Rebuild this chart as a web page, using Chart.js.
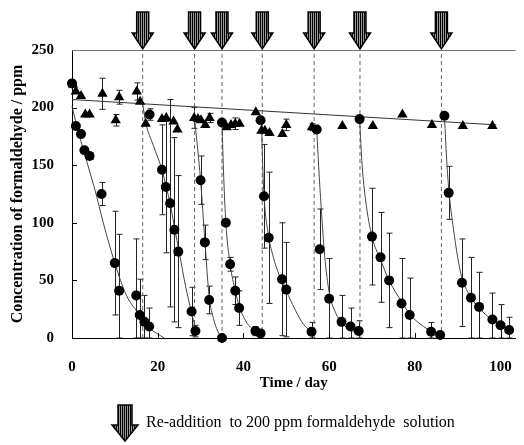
<!DOCTYPE html>
<html>
<head>
<meta charset="utf-8">
<script src="https://cdn.jsdelivr.net/npm/chart.js@4.4.0/dist/chart.umd.min.js"></script>
<style>
  html, body { margin: 0; padding: 0; background: #fff; }
  canvas { display: block; }
</style>
</head>
<body>
<canvas id="chart" width="524" height="445"></canvas>
<script>
// --- data ---
const xTicks = [0, 20, 40, 60, 80, 100];
const yTicks = [0, 50, 100, 150, 200, 250];

// days where 200 ppm formaldehyde was added again
const readdDays = [16.5, 28.6, 35.0, 44.4, 56.5, 67.2, 86.2];

// circles (with cells)
const circleDays = [0, 0.9, 2.1, 2.9, 4.1, 6.9, 10.0, 11.0, 15.0, 15.8, 16.9, 18.0,
  18.1, 21.0, 21.9, 22.9, 23.9, 24.8, 27.9, 28.8,
  30.0, 31.0, 32.0, 35.0,
  35.0, 35.9, 36.9, 38.1, 39.0, 42.8, 44.0,
  44.0, 44.8, 45.9, 49.0, 50.0, 55.9,
  57.1, 57.8, 60.0, 62.9, 65.0, 66.9,
  67.1, 70.0, 72.0, 74.0, 76.9, 78.8, 83.8, 85.9,
  86.9, 87.9, 91.0, 93.1, 95.0, 98.1, 100.0, 102.0];
const circleConc = [221, 184, 177, 163, 158, 125, 65, 41, 37, 20, 14, 10,
  194, 146, 131, 117, 94, 75, 23, 6,
  137, 83, 33, 0,
  187, 100, 64, 41, 26, 6, 4,
  189, 123, 87, 51, 42, 5.5,
  181, 77, 34, 14, 10, 6,
  190, 88, 70, 50, 30, 20, 5.5, 2.6,
  193, 126, 48, 35, 27, 16, 11, 7];
const circleErr = [0, 0, 0, 0, 3, 10, 45, 49, 49, 31, 23, 16,
  5, 39, 57, 90, 80, 66, 21, 5,
  21, 15, 12, 0,
  0, 0, 6, 12, 15, 4, 0,
  0, 45, 57, 49, 41, 8,
  0, 35, 35, 23, 16, 9,
  0, 42, 39, 41, 39, 32, 8, 0,
  0, 23, 38, 35, 30, 23, 18, 11];

// triangles (control)
const triDays = [0.2, 0.9, 2.1, 3.1, 4.1, 7.1, 10.2, 11.0, 15.1, 15.9, 17.2,
  21.0, 22.0, 23.7, 24.6, 28.5, 29.4, 30.1, 31.1, 32.1,
  36.1, 37.1, 38.1, 39.1, 42.9, 44.2, 45.0, 46.1, 49.1, 50.0,
  56.0, 63.1, 70.2, 77.1, 84.0, 91.2, 98.1];
const triConc = [220, 214, 210, 194, 194, 212, 189, 209, 214, 205, 186,
  190, 191, 188, 181, 191, 190, 189, 185, 191,
  183, 185, 186, 186, 196, 180, 180, 178, 177, 185,
  183, 184, 184, 194, 185, 184, 184];
const triErr = [0, 0, 0, 0, 0, 13.5, 5, 6, 7.5, 0, 0,
  0, 0, 0, 0, 9, 0, 0, 0, 4,
  0, 0, 5, 0, 0, 0, 0, 0, 0, 5,
  3, 0, 0, 0, 0, 0, 0];

// straight line through the triangles
const trendDays = [0, 99];
const trendConc = [207, 185];

// decay curves, one per feeding
const fit1 = [[0, 201], [1, 186], [2, 172], [3, 159], [4, 146], [5.4, 128], [7.3, 100], [10, 65], [12.7, 37], [15.8, 20], [18, 9], [21.5, 0]];
const fit2 = [[16.5, 203], [17.2, 187], [19, 167], [21, 146], [22, 131], [23, 115], [24, 94], [25, 75], [26.5, 45], [27.9, 22], [29, 5]];
const fit3 = [[28.6, 190], [29.3, 165], [30, 137], [31, 85], [32, 36], [33, 17], [34, 6], [35, 0]];
const fit4 = [[35, 187], [35.4, 140], [35.9, 100], [36.9, 64], [38.1, 41], [39, 28], [40.5, 15], [42, 8], [44, 3]];
const fit5 = [[44.2, 190], [44.5, 150], [44.8, 124], [45.9, 88], [47, 70], [48, 58], [49, 49], [50, 41], [52, 25], [54, 12], [56, 5]];
const fit6 = [[57.1, 181], [57.7, 140], [58.3, 105], [59, 70], [60, 40], [61.5, 22], [63, 13], [65, 7], [67, 4]];
const fit7 = [[67.1, 190], [67.7, 150], [68.5, 120], [70, 88], [72, 68], [74, 50], [77, 31], [79, 20], [82, 10], [86, 2]];
const fit8 = [[86.9, 193], [87.5, 150], [88, 126], [89, 95], [90, 70], [91, 52], [93, 36], [95, 26], [98, 16], [102, 8]];

const serif = '"Liberation Serif", "Times New Roman", serif';

// --- helpers ---
function toPoints(days, vals) {
    return days.map((d, i) => ({ x: d, y: vals[i] }));
}

function curveDataset(pairs) {
    return {
        data: pairs.map(p => ({ x: p[0], y: p[1] })),
        showLine: true,
        borderColor: '#444',
        borderWidth: 1,
        pointRadius: 0,
        cubicInterpolationMode: 'monotone',
        order: 5
    };
}

function stripePattern(ctx) {
    const c = document.createElement('canvas');
    c.width = 2; c.height = 1;
    const g = c.getContext('2d');
    g.fillStyle = '#000'; g.fillRect(0, 0, 1, 1);
    g.fillStyle = '#9a9a9a'; g.fillRect(1, 0, 1, 1);
    return ctx.createPattern(c, 'repeat');
}

function drawArrow(ctx, cx, top, bottom, shaftW, headW, headH) {
    ctx.save();
    ctx.beginPath();
    ctx.moveTo(cx - shaftW / 2, top);
    ctx.lineTo(cx + shaftW / 2, top);
    ctx.lineTo(cx + shaftW / 2, bottom - headH);
    ctx.lineTo(cx + headW / 2, bottom - headH);
    ctx.lineTo(cx, bottom);
    ctx.lineTo(cx - headW / 2, bottom - headH);
    ctx.lineTo(cx - shaftW / 2, bottom - headH);
    ctx.closePath();
    ctx.fillStyle = stripePattern(ctx);
    ctx.fill();
    ctx.strokeStyle = '#000';
    ctx.lineWidth = 1.5;
    ctx.stroke();
    ctx.restore();
}

function drawErrBars(ctx, xs, ys, days, vals, errs) {
    ctx.save();
    ctx.strokeStyle = '#222';
    ctx.lineWidth = 1;
    days.forEach((d, i) => {
        if (!errs[i]) return;
        const px = Math.round(xs.getPixelForValue(d)) + 0.5;
        const hi = ys.getPixelForValue(Math.min(250, vals[i] + errs[i]));
        const lo = ys.getPixelForValue(Math.max(0, vals[i] - errs[i]));
        ctx.beginPath();
        ctx.moveTo(px, hi); ctx.lineTo(px, lo);
        ctx.moveTo(px - 3, hi); ctx.lineTo(px + 3, hi);
        ctx.moveTo(px - 3, lo); ctx.lineTo(px + 3, lo);
        ctx.stroke();
    });
    ctx.restore();
}

const extras = {
    id: 'extras',
    beforeDatasetsDraw(chart) {
        const { ctx, scales: { x, y } } = chart;
        drawErrBars(ctx, x, y, triDays, triConc, triErr);
        drawErrBars(ctx, x, y, circleDays, circleConc, circleErr);
    },
    afterDraw(chart) {
        const { ctx, chartArea: a, scales: { x, y } } = chart;
        ctx.save();
        // top frame line
        ctx.strokeStyle = '#777';
        ctx.lineWidth = 1;
        ctx.beginPath();
        ctx.moveTo(a.left, Math.round(a.top) + 0.5);
        ctx.lineTo(a.right, Math.round(a.top) + 0.5);
        ctx.stroke();
        // inward tick marks
        ctx.strokeStyle = '#000';
        ctx.beginPath();
        yTicks.slice(1, -1).forEach(v => {
            const py = Math.round(y.getPixelForValue(v)) + 0.5;
            ctx.moveTo(a.left, py); ctx.lineTo(a.left + 5, py);
        });
        xTicks.slice(1).forEach(v => {
            const px = Math.round(x.getPixelForValue(v)) + 0.5;
            ctx.moveTo(px, a.bottom); ctx.lineTo(px, a.bottom - 5);
        });
        ctx.stroke();
        ctx.restore();

        // arrows on top for each re-addition
        readdDays.forEach(d => {
            drawArrow(ctx, x.getPixelForValue(d), 12, a.top - 1, 12, 21, 16);
        });

        // legend under the axis
        drawArrow(ctx, 125, 405, 441, 14, 26, 16);
        ctx.save();
        ctx.fillStyle = '#000';
        ctx.font = '16px ' + serif;
        ctx.textBaseline = 'middle';
        ctx.fillText('Re-addition  to 200 ppm formaldehyde  solution', 146, 423);
        ctx.restore();
    }
};

// --- chart ---
const ctx = document.getElementById('chart').getContext('2d');
new Chart(ctx, {
    type: 'scatter',
    data: {
        datasets: [
            // dashed re-addition markers
            ...readdDays.map(d => ({
                data: [{ x: d, y: 0 }, { x: d, y: 250 }],
                showLine: true,
                borderColor: '#666',
                borderWidth: 1,
                borderDash: [4, 3],
                pointRadius: 0,
                order: 9
            })),
            {
                data: toPoints(trendDays, trendConc),
                showLine: true,
                borderColor: '#333',
                borderWidth: 1,
                pointRadius: 0,
                order: 4
            },
            curveDataset(fit1), curveDataset(fit2), curveDataset(fit3), curveDataset(fit4),
            curveDataset(fit5), curveDataset(fit6), curveDataset(fit7), curveDataset(fit8),
            {
                data: toPoints(triDays, triConc),
                pointStyle: 'triangle',
                pointRadius: 6,
                backgroundColor: '#000',
                borderColor: '#000',
                borderWidth: 0,
                order: 2
            },
            {
                data: toPoints(circleDays, circleConc),
                pointStyle: 'circle',
                pointRadius: 5,
                backgroundColor: '#000',
                borderColor: '#000',
                borderWidth: 0,
                order: 1
            }
        ]
    },
    options: {
        responsive: false,
        animation: false,
        clip: false,
        layout: { padding: { top: 50, right: 4, left: 0, bottom: 0 } },
        plugins: { legend: { display: false }, tooltip: { enabled: false } },
        scales: {
            x: {
                type: 'linear',
                min: 0,
                max: 103.5,
                afterBuildTicks: s => { s.ticks = xTicks.map(v => ({ value: v })); },
                afterFit: s => { s.height = 107; },
                grid: { display: false },
                border: { display: true, color: '#000', width: 1 },
                ticks: { color: '#000', padding: 12, maxRotation: 0, font: { family: serif, size: 15, weight: 'bold' } },
                title: {
                    display: true,
                    text: 'Time / day',
                    color: '#000',
                    font: { family: serif, size: 15, weight: 'bold' },
                    padding: { top: 0, bottom: 53 }
                }
            },
            y: {
                min: 0,
                max: 250,
                afterBuildTicks: s => { s.ticks = yTicks.map(v => ({ value: v })); },
                afterFit: s => { s.width = 72; },
                grid: { display: false },
                border: { display: true, color: '#000', width: 1 },
                ticks: { color: '#000', padding: 10, font: { family: serif, size: 15, weight: 'bold' } },
                title: {
                    display: true,
                    text: 'Concentration of formaldehyde / ppm',
                    color: '#000',
                    font: { family: serif, size: 16, weight: 'bold' },
                    padding: { top: 8, bottom: 0 }
                }
            }
        }
    },
    plugins: [extras]
});
</script>
</body>
</html>
